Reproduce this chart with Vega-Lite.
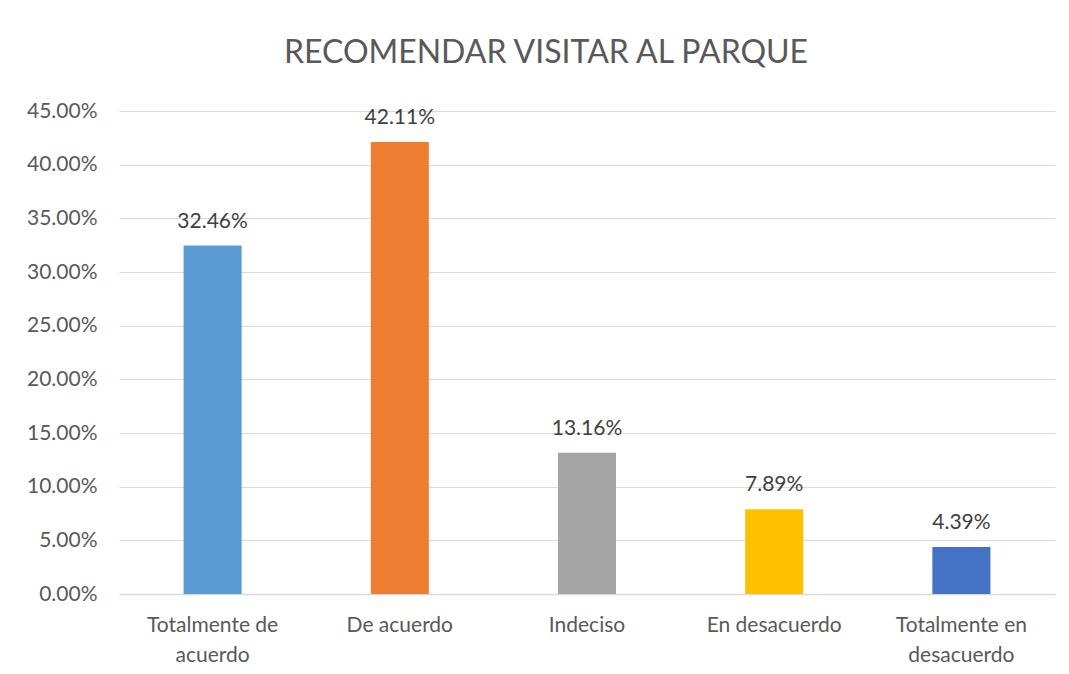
{
  "$schema": "https://vega.github.io/schema/vega-lite/v6.json",
  "width": 936,
  "height": 483,
  "autosize": {"type": "none"},
  "padding": {"left": 119, "top": 111, "right": 14, "bottom": 80},
  "background": "white",
  "title": {
    "text": "RECOMENDAR VISITAR AL PARQUE",
    "font": "Lato",
    "fontSize": 32,
    "fontWeight": "normal",
    "color": "#595959",
    "anchor": "middle",
    "dx": -41,
    "offset": 30
  },
  "config": {
    "view": {"stroke": null},
    "font": "Lato"
  },
  "data": {
    "values": [
      {"categoria": "Totalmente de acuerdo", "porcentaje": 0.3246},
      {"categoria": "De acuerdo", "porcentaje": 0.4211},
      {"categoria": "Indeciso", "porcentaje": 0.1316},
      {"categoria": "En desacuerdo", "porcentaje": 0.0789},
      {"categoria": "Totalmente en desacuerdo", "porcentaje": 0.0439}
    ]
  },
  "encoding": {
    "x": {
      "field": "categoria",
      "type": "nominal",
      "sort": null,
      "scale": {"paddingInner": 0.69, "paddingOuter": 0.345},
      "axis": {
        "title": null,
        "labelAngle": 0,
        "labelFont": "Lato",
        "labelFontSize": 21,
        "labelColor": "#595959",
        "labelLineHeight": 30,
        "labelPadding": 20,
        "ticks": false,
        "domainColor": "#D9D9D9",
        "domainWidth": 1.5,
        "labelExpr": "datum.label == 'Totalmente de acuerdo' ? ['Totalmente de', 'acuerdo'] : datum.label == 'Totalmente en desacuerdo' ? ['Totalmente en', 'desacuerdo'] : datum.label"
      }
    },
    "y": {
      "field": "porcentaje",
      "type": "quantitative",
      "scale": {"domain": [0, 0.45], "nice": false},
      "axis": {
        "title": null,
        "format": ".2%",
        "values": [0, 0.05, 0.1, 0.15, 0.2, 0.25, 0.3, 0.35, 0.4, 0.45],
        "labelFont": "Lato",
        "labelFontSize": 21,
        "labelColor": "#595959",
        "labelPadding": 22,
        "ticks": false,
        "domain": false,
        "gridColor": "#D9D9D9",
        "gridWidth": 1.2
      }
    }
  },
  "layer": [
    {
      "mark": {"type": "bar"},
      "encoding": {
        "color": {
          "field": "categoria",
          "type": "nominal",
          "legend": null,
          "scale": {
            "domain": ["Totalmente de acuerdo", "De acuerdo", "Indeciso", "En desacuerdo", "Totalmente en desacuerdo"],
            "range": ["#5B9BD5", "#ED7D31", "#A5A5A5", "#FFC000", "#4472C4"]
          }
        }
      }
    },
    {
      "mark": {"type": "text", "baseline": "bottom", "dy": -14, "fontSize": 21, "font": "Lato", "color": "#404040"},
      "encoding": {
        "text": {"field": "porcentaje", "type": "quantitative", "format": ".2%"}
      }
    }
  ]
}
